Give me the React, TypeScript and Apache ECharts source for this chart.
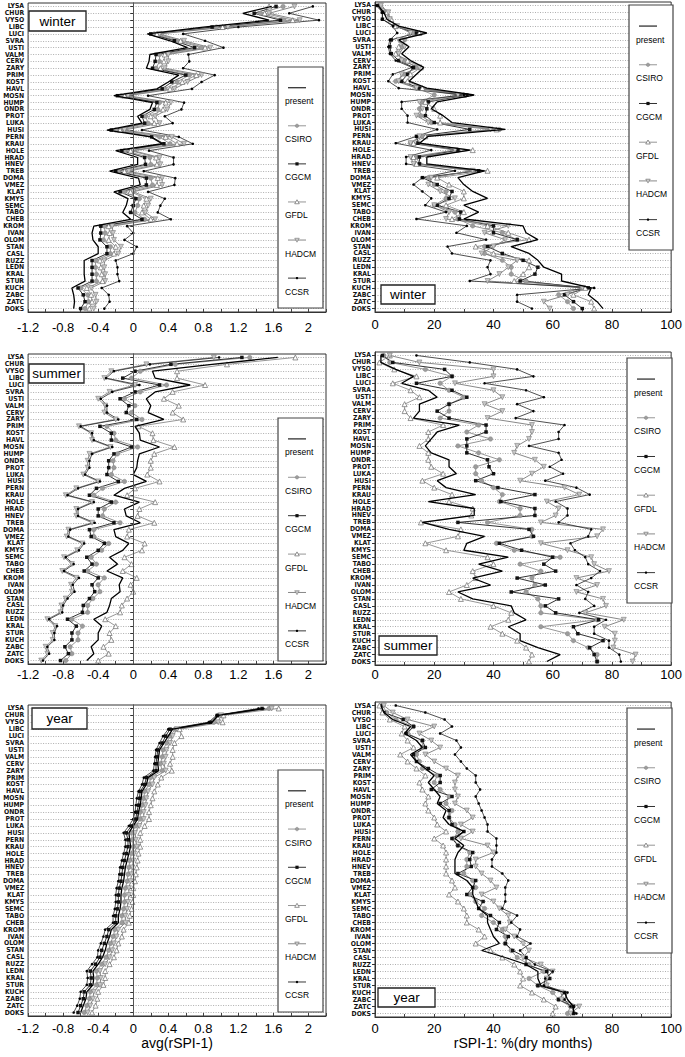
import React, { useEffect, useRef } from "react";
import * as echarts from "echarts";

const stations = ["LYSA","CHUR","VYSO","LIBC","LUCI","SVRA","USTI","VALM","CERV","ZARY","PRIM","KOST","HAVL","MOSN","HUMP","ONDR","PROT","LUKA","HUSI","PERN","KRAU","HOLE","HRAD","HNEV","TREB","DOMA","VMEZ","KLAT","KMYS","SEMC","TABO","CHEB","KROM","IVAN","OLOM","STAN","CASL","RUZZ","LEDN","KRAL","STUR","KUCH","ZABC","ZATC","DOKS"];

const models = ["present", "CSIRO", "CGCM", "GFDL", "HADCM", "CCSR"];
const avgTicks = [-1.2, -0.8, -0.4, 0, 0.4, 0.8, 1.2, 1.6, 2];
const pctTicks = [0, 20, 40, 60, 80, 100];

// ---------- winter avg(rSPI-1)
const winterAvgPresent = [1.58,1.25,1.55,0.8,0.16,0.42,0.62,0.19,0.18,0.15,0.52,0.4,0.27,-0.22,0.22,0.19,0.05,0.1,-0.3,0.2,0.33,-0.2,0.05,0.05,-0.27,0.06,0.08,-0.22,-0.06,-0.08,-0.12,-0.03,-0.45,-0.47,-0.46,-0.4,-0.4,-0.56,-0.56,-0.56,-0.55,-0.7,-0.68,-0.67,-0.68];
const winterAvgCSIRO = [1.71,1.45,1.72,0.95,0.24,0.5,0.78,0.3,0.3,0.26,0.64,0.5,0.36,-0.14,0.3,0.28,0.14,0.17,-0.2,0.3,0.42,-0.1,0.19,0.2,-0.17,0.2,0.22,-0.1,0.07,0.05,0.02,0.13,-0.33,-0.32,-0.34,-0.26,-0.26,-0.43,-0.43,-0.42,-0.42,-0.6,-0.52,-0.51,-0.55];
const winterAvgCGCM = [1.63,1.38,1.68,0.9,0.2,0.47,0.7,0.26,0.25,0.22,0.6,0.44,0.33,-0.18,0.27,0.24,0.1,0.13,-0.25,0.21,0.35,-0.13,0.13,0.14,-0.2,0.15,0.15,-0.15,0.03,0.0,-0.03,0.1,-0.37,-0.37,-0.38,-0.3,-0.3,-0.47,-0.47,-0.47,-0.47,-0.63,-0.57,-0.55,-0.6];
const winterAvgGFDL = [1.55,1.5,1.82,1.02,0.27,0.54,0.82,0.36,0.35,0.31,0.72,0.56,0.42,-0.1,0.37,0.34,0.2,0.24,-0.15,0.37,0.5,-0.03,0.26,0.27,-0.1,0.28,0.27,-0.03,0.15,0.12,0.1,0.2,-0.28,-0.27,-0.28,-0.2,-0.22,-0.38,-0.37,-0.36,-0.35,-0.53,-0.48,-0.47,-0.5];
const winterAvgHADCM = [1.84,1.55,1.9,1.08,0.3,0.58,0.88,0.4,0.4,0.36,0.78,0.62,0.47,-0.06,0.43,0.39,0.25,0.3,-0.1,0.44,0.58,0.0,0.3,0.31,-0.05,0.33,0.33,0.0,0.2,0.17,0.14,0.25,-0.24,-0.23,-0.22,-0.14,-0.17,-0.33,-0.33,-0.32,-0.32,-0.48,-0.43,-0.42,-0.45];
const winterAvgCCSR = [2.05,1.78,2.12,1.2,0.57,0.82,1.03,0.63,0.64,0.57,0.93,0.78,0.67,0.17,0.58,0.55,0.36,0.45,0.1,0.52,0.68,0.18,0.46,0.46,0.12,0.48,0.47,0.17,0.36,0.31,0.28,0.43,-0.07,0.0,-0.1,0.04,0.0,-0.2,-0.18,-0.18,-0.16,-0.36,-0.28,-0.27,-0.33];

// ---------- winter % dry months
const winterPctPresent = [1,3,4,8,17.5,8,11.5,9,12,16.5,14,11.5,17.5,33.5,21,19,23,26,44,18,15,32,17.5,17.5,37,28,30,33,38,30,35,30,50,51,55,46,52,55,57,63,63,73,72,75,77];
const winterPctCSIRO = [1.5,3.5,5,7,13,10,9,7.5,10,14,10,7,14,20,16,15,15.5,19,42,16,12,28,14,15,33,18,20,24,24,20,27,28,33,43,48,37,37,43,46,46,51,70,62,65,67];
const winterPctCGCM = [1,2.5,2.5,6.5,14,5.5,5,5.5,8,13,11,9,15,31,18,17.5,17,20,32,14,14.5,28,15,15,35,16,21,26,25,21,29,28.5,40,40,48,38,43,50,55,54,49,72,64,67,70];
const winterPctGFDL = [2,4,5.5,7,15,9,8,7,11,15.5,12,11,16,30,17,20,22,22,41,17,13,33,13,14,38,21,25,30,30,24,30,26,38,45,52,34,40,52,52,50,47,71,67,73,74];
const winterPctHADCM = [2,4.5,5,7.5,12,8,10,8,9,15,9,8,14,28,15,16,14,18,39,15,12,27,12,13,33,19,18,22,27,20,25,24,45,37,44,40,36,48,45,42,38,70,65,57,59];
const winterPctCCSR = [0.5,2.5,2.5,6,7.5,5,4.5,5,7,12.5,6,4.5,8,30,9,9,11,11,21,14,7,19,10.5,10.5,27,16,13,16,19,17,24,14,31,27.5,37.5,24.5,26,39,38,39,32,74,48,48,53];

// ---------- summer avg(rSPI-1)
const summerAvgPresent = [1.65,0.9,0.22,0.25,0.65,0.25,0.15,0.2,0.17,0.35,0.02,0.07,0.08,0.3,0.07,0.05,0.04,0.0,0.15,-0.1,-0.22,0.07,-0.1,-0.08,0.08,-0.22,-0.2,-0.05,-0.12,-0.27,-0.18,-0.3,-0.12,-0.16,-0.15,-0.25,-0.27,-0.3,-0.45,-0.36,-0.4,-0.4,-0.48,-0.45,-0.53];
const summerAvgCSIRO = [1.33,0.48,0.08,-0.02,0.38,0.08,-0.1,0.02,-0.02,0.1,-0.3,-0.22,-0.2,0.05,-0.18,-0.23,-0.22,-0.25,-0.1,-0.35,-0.45,-0.2,-0.33,-0.35,-0.15,-0.45,-0.45,-0.28,-0.36,-0.48,-0.42,-0.52,-0.33,-0.4,-0.38,-0.46,-0.52,-0.52,-0.7,-0.58,-0.63,-0.63,-0.72,-0.7,-0.77];
const summerAvgCGCM = [1.24,0.43,0.02,-0.12,0.3,0.02,-0.15,-0.05,-0.08,0.04,-0.38,-0.25,-0.25,-0.02,-0.22,-0.28,-0.28,-0.3,-0.17,-0.42,-0.5,-0.25,-0.4,-0.4,-0.22,-0.5,-0.48,-0.33,-0.4,-0.53,-0.47,-0.56,-0.4,-0.47,-0.44,-0.5,-0.57,-0.58,-0.75,-0.65,-0.7,-0.7,-0.78,-0.74,-0.83];
const summerAvgGFDL = [1.85,1.07,0.5,0.5,0.82,0.45,0.35,0.52,0.45,0.57,0.06,0.22,0.23,0.47,0.24,0.2,0.2,0.16,0.3,0.02,-0.07,0.25,0.07,0.05,0.24,-0.05,-0.07,0.13,0.1,-0.1,-0.02,-0.12,0.04,-0.03,0.0,-0.07,-0.13,-0.15,-0.32,-0.2,-0.27,-0.25,-0.34,-0.28,-0.4];
const summerAvgHADCM = [0.92,0.15,-0.25,-0.33,0.02,-0.27,-0.4,-0.32,-0.33,-0.2,-0.62,-0.48,-0.47,-0.26,-0.5,-0.52,-0.52,-0.57,-0.4,-0.65,-0.77,-0.47,-0.65,-0.65,-0.47,-0.74,-0.76,-0.58,-0.64,-0.79,-0.7,-0.81,-0.65,-0.71,-0.7,-0.77,-0.82,-0.83,-0.98,-0.89,-0.92,-0.92,-1.0,-0.98,-1.05];
const summerAvgCCSR = [0.98,0.19,-0.22,-0.31,0.07,-0.24,-0.37,-0.3,-0.3,-0.17,-0.6,-0.47,-0.45,-0.24,-0.47,-0.5,-0.5,-0.55,-0.38,-0.63,-0.75,-0.45,-0.63,-0.63,-0.44,-0.72,-0.74,-0.56,-0.62,-0.77,-0.68,-0.79,-0.62,-0.69,-0.67,-0.75,-0.8,-0.81,-0.96,-0.87,-0.9,-0.9,-0.98,-0.96,-1.03];

// ---------- summer % dry months
const summerPctPresent = [2,2,7,13,9,18,21,15,15,13,28.5,21,19,17,19,25,25,27.5,21,24,34,18,33.5,33.5,16,25,37,31,30,45,35,43,33,39,28,33,46,47,51,45,49,49,55,62.5,58];
const summerPctCSIRO = [3,5,17,26,22,25,30,25,25,22,35,31,39,28,35,42,34,34,36,40,43,42,49,49,38,53,53,41,47,62.5,49,56,53,54,51,55,56,56,75,56,65,67,72,75,75];
const summerPctCGCM = [2.5,6,23.5,26,14,26,31,25,21,25,37.5,37.5,31,31,31,38,38.5,40,34,41.5,54,42.5,54,54,28,52,53.5,42,49.5,60,57,61,48,57.5,46,62,57.5,61,75.5,67,68.5,77,72.5,74,75];
const summerPctGFDL = [5,1.5,6.5,14,6,12,15,10,10,12,23,18,18,15,18,18,19,23,16,20,26,25,33,32.5,15.5,29,28,17,24,38,40,33,34,31,25,29,40,46,45,39,43,48,51,53,52];
const summerPctHADCM = [5,15,40,40,27,40,43,37,43,38,53,53,52,48,47,54,57,53,49,64,69,58,62,61,56,77,75,56,65,73,74,79,68,75,68,77,78,71,84,77.5,81,81,80.5,88,87];
const summerPctCCSR = [14,32,48,53.5,37,51,57,48,53.5,47.5,64,62,62,52,62,63,59,63.5,57.5,68,72.5,61,65,65,62,73,72,66,67.5,71,72,76,73,68,72,71,74,69,78,74,74,79,79,82.5,83];

// ---------- year avg(rSPI-1)
const yearAvgPresent = [1.5,0.97,0.9,0.45,0.4,0.35,0.3,0.29,0.28,0.29,0.17,0.15,0.1,0.09,0.08,0.06,0.05,0.0,-0.05,-0.04,-0.03,-0.05,-0.07,-0.09,-0.1,-0.11,-0.13,-0.14,-0.14,-0.15,-0.17,-0.17,-0.25,-0.27,-0.3,-0.32,-0.35,-0.4,-0.46,-0.45,-0.46,-0.53,-0.54,-0.57,-0.6];
const yearAvgCSIRO = [1.55,0.97,0.92,0.48,0.42,0.38,0.34,0.33,0.31,0.33,0.2,0.18,0.13,0.12,0.1,0.08,0.08,0.03,-0.02,-0.01,0.0,-0.02,-0.04,-0.05,-0.06,-0.07,-0.09,-0.1,-0.1,-0.11,-0.13,-0.13,-0.21,-0.23,-0.26,-0.28,-0.31,-0.36,-0.42,-0.41,-0.42,-0.49,-0.5,-0.53,-0.56];
const yearAvgCGCM = [1.47,0.96,0.88,0.42,0.37,0.33,0.28,0.27,0.26,0.26,0.15,0.13,0.08,0.07,0.06,0.04,0.03,-0.02,-0.08,-0.06,-0.06,-0.08,-0.1,-0.12,-0.13,-0.14,-0.16,-0.17,-0.17,-0.18,-0.2,-0.2,-0.28,-0.3,-0.33,-0.36,-0.38,-0.43,-0.49,-0.48,-0.49,-0.56,-0.57,-0.6,-0.63];
const yearAvgGFDL = [1.66,1.03,1.02,0.53,0.55,0.47,0.45,0.45,0.42,0.44,0.32,0.28,0.24,0.22,0.2,0.18,0.18,0.13,0.08,0.08,0.08,0.06,0.05,0.04,0.03,0.02,0.0,0.0,-0.01,-0.02,-0.04,-0.05,-0.11,-0.13,-0.17,-0.19,-0.22,-0.27,-0.32,-0.32,-0.34,-0.4,-0.41,-0.43,-0.47];
const yearAvgHADCM = [1.58,1.0,0.97,0.5,0.45,0.42,0.38,0.37,0.35,0.37,0.24,0.22,0.17,0.15,0.14,0.12,0.12,0.07,0.02,0.03,0.04,0.01,0.0,-0.01,-0.02,-0.03,-0.05,-0.05,-0.06,-0.07,-0.09,-0.09,-0.17,-0.19,-0.22,-0.24,-0.27,-0.32,-0.38,-0.37,-0.38,-0.45,-0.46,-0.49,-0.52];
const yearAvgCCSR = [1.43,0.95,0.86,0.4,0.34,0.3,0.26,0.25,0.24,0.23,0.12,0.1,0.06,0.04,0.03,0.02,0.0,-0.05,-0.11,-0.09,-0.09,-0.11,-0.13,-0.15,-0.16,-0.17,-0.19,-0.2,-0.2,-0.21,-0.23,-0.23,-0.32,-0.34,-0.37,-0.4,-0.41,-0.47,-0.53,-0.52,-0.53,-0.6,-0.61,-0.64,-0.68];

// ---------- year % dry months
const yearPctPresent = [2,3,6,12,10,14,16,12,14,17,20,18,20,22,21,24,23,25,30,27,30,28,27,27,27,31,33,33,34,35,38,38,39,40,42,36,44,51,55,55,56,64,65,67,67];
const yearPctCSIRO = [2.5,4,7,13,11,16,16,14,15,16,21,20,22,25,24,26,25,27,28,26.5,28,32,31,31,30,33,34,32,34,37,36,40,43,44,44,46,48,52,57,52,55,60,62,66,65];
const yearPctCGCM = [2,3,9.5,13,10.5,16,17,13,14,18,22,22,19,26,22,25,25,26,30,26,28,33,32,32.5,28,34,33,31,36.5,35,39,42,41,45,44,46.5,51,51,58,59,55,64,62,67,67];
const yearPctGFDL = [1.5,2.5,5,10,9,11,13,8.5,11,14,17,15,16,18,17,18,20,21,24,20,23,24,24,24,24,26,27,25,28,30,31,31,35,37,34,39,43,47,49,50,49,53,57,61,60];
const yearPctHADCM = [3,6,11,20,15,19,22,17,20,24,28,27,27,28,27,31,33,29,33,29,38,40,34,34,36,39,41,36,40,42,45,45.5,44,47,50,52,50,56,60,58,58,63,63,69,66];
const yearPctCCSR = [7,17,23.5,26,22,27.5,29,27,29,31,34,34,35.5,34,35,36,37,38,38,41,41,41,39.5,39.5,43,45,44,44,44,43,48,46,49,48,52.5,49,51,54,60,57.5,57,65,64,66,68];

const panelData: Record<string, number[][]> = {
  winterAvg: [winterAvgPresent, winterAvgCSIRO, winterAvgCGCM, winterAvgGFDL, winterAvgHADCM, winterAvgCCSR],
  winterPct: [winterPctPresent, winterPctCSIRO, winterPctCGCM, winterPctGFDL, winterPctHADCM, winterPctCCSR],
  summerAvg: [summerAvgPresent, summerAvgCSIRO, summerAvgCGCM, summerAvgGFDL, summerAvgHADCM, summerAvgCCSR],
  summerPct: [summerPctPresent, summerPctCSIRO, summerPctCGCM, summerPctGFDL, summerPctHADCM, summerPctCCSR],
  yearAvg: [yearAvgPresent, yearAvgCSIRO, yearAvgCGCM, yearAvgGFDL, yearAvgHADCM, yearAvgCCSR],
  yearPct: [yearPctPresent, yearPctCSIRO, yearPctCGCM, yearPctGFDL, yearPctHADCM, yearPctCCSR],
};

const FONT = "'Liberation Sans', Arial, Helvetica, sans-serif";
const NARROW = "'Liberation Sans Narrow', 'DejaVu Sans Condensed', 'Liberation Sans', sans-serif";

type Box = { x: number; y: number; w: number; h: number };
type Panel = {
  key: string;
  kind: "avg" | "pct";
  grid: { left: number; top: number; width: number; height: number };
  labelMargin: number;
  tag: Box & { text: string };
  legend: Box;
  name?: string;
};

const panels: Panel[] = [
  { key: "winterAvg", kind: "avg", grid: { left: 24, top: 3, width: 302, height: 309 }, labelMargin: 9,
    tag: { x: 29, y: 11, w: 57, h: 20, text: "winter" }, legend: { x: 278, y: 67, w: 45, h: 241 } },
  { key: "winterPct", kind: "pct", grid: { left: 375, top: 2, width: 302, height: 310 }, labelMargin: 6,
    tag: { x: 381, y: 285, w: 54, h: 19, text: "winter" }, legend: { x: 629, y: 5, w: 44, h: 245 } },
  { key: "summerAvg", kind: "avg", grid: { left: 24, top: 354, width: 302, height: 310 }, labelMargin: 4,
    tag: { x: 29, y: 364, w: 55, h: 19, text: "summer" }, legend: { x: 278, y: 418, w: 45, h: 243 } },
  { key: "summerPct", kind: "pct", grid: { left: 375, top: 352, width: 302, height: 313 }, labelMargin: 3,
    tag: { x: 379, y: 636, w: 58, h: 19, text: "summer" }, legend: { x: 627, y: 358, w: 45, h: 245 } },
  { key: "yearAvg", kind: "avg", grid: { left: 24, top: 705, width: 302, height: 311 }, labelMargin: 6,
    tag: { x: 32, y: 708, w: 55, h: 21, text: "year" }, legend: { x: 278, y: 770, w: 45, h: 242 }, name: "avg(rSPI-1)" },
  { key: "yearPct", kind: "pct", grid: { left: 375, top: 702, width: 302, height: 315 }, labelMargin: 5,
    tag: { x: 378, y: 988, w: 57, h: 19, text: "year" }, legend: { x: 627, y: 708, w: 45, h: 245 }, name: "rSPI-1: %(dry months)" },
];

const modelStyle: Record<string, any> = {
  present: { lineStyle: { color: "#000", width: 1.3 }, symbol: "none", itemStyle: { color: "#000" } },
  CSIRO: { lineStyle: { color: "#8a8a8a", width: 0.9 }, symbol: "circle", symbolSize: 4.5,
    itemStyle: { color: "#9c9c9c", borderColor: "#808080", borderWidth: 0.4 } },
  CGCM: { lineStyle: { color: "#1a1a1a", width: 0.9 }, symbol: "rect", symbolSize: 3.5, itemStyle: { color: "#111" } },
  GFDL: { lineStyle: { color: "#8a8a8a", width: 0.9 }, symbol: "triangle", symbolSize: 5,
    itemStyle: { color: "#fff", borderColor: "#6a6a6a", borderWidth: 0.7 } },
  HADCM: { lineStyle: { color: "#7a7a7a", width: 0.9 }, symbol: "path://M0,0L10,0L5,9Z", symbolSize: 5,
    itemStyle: { color: "#c8c8c8", borderColor: "#6a6a6a", borderWidth: 0.5 } },
  CCSR: { lineStyle: { color: "#222", width: 0.8 }, symbol: "circle", symbolSize: 2.6, itemStyle: { color: "#000" } },
};

function legendMarker(model: string, cx: number, cy: number): any[] {
  const out: any[] = [];
  const st = modelStyle[model];
  out.push({ type: "line", shape: { x1: cx - 9, y1: cy, x2: cx + 9, y2: cy },
    style: { stroke: model === "present" ? "#222" : st.lineStyle.color, lineWidth: model === "present" ? 1.2 : 0.9 } });
  if (model === "CSIRO") out.push({ type: "circle", shape: { cx, cy, r: 1.8 }, style: { fill: "#9c9c9c", stroke: "#808080", lineWidth: 0.4 } });
  if (model === "CGCM") out.push({ type: "rect", shape: { x: cx - 1.6, y: cy - 1.6, width: 3.2, height: 3.2 }, style: { fill: "#111" } });
  if (model === "GFDL") out.push({ type: "polygon", shape: { points: [[cx, cy - 2.2], [cx + 2.3, cy + 1.8], [cx - 2.3, cy + 1.8]] }, style: { fill: "#fff", stroke: "#666", lineWidth: 0.7 } });
  if (model === "HADCM") out.push({ type: "polygon", shape: { points: [[cx - 2.3, cy - 1.8], [cx + 2.3, cy - 1.8], [cx, cy + 2.2]] }, style: { fill: "#c8c8c8", stroke: "#666", lineWidth: 0.5 } });
  if (model === "CCSR") out.push({ type: "circle", shape: { cx, cy, r: 1.2 }, style: { fill: "#000" } });
  return out;
}

function legendGraphic(b: Box): any[] {
  const els: any[] = [
    { type: "rect", shape: { x: b.x, y: b.y, width: b.w, height: b.h }, style: { fill: "#fff", stroke: "#444", lineWidth: 1.2 }, z: 10 },
  ];
  const step = b.h * 0.158;
  models.forEach((m, i) => {
    const ly = b.y + b.h * 0.086 + i * step;
    legendMarker(m, b.x + 19, ly).forEach((e) => els.push({ ...e, z: 11 }));
    els.push({ type: "text", x: b.x + 7, y: ly + 9, z: 11,
      style: { text: m, fill: "#000", fontSize: 8.5, fontFamily: FONT, textAlign: "left", textVerticalAlign: "top", align: "left", verticalAlign: "top" } });
  });
  return els;
}

function tagGraphic(t: Box & { text: string }): any[] {
  return [
    { type: "rect", shape: { x: t.x, y: t.y, width: t.w, height: t.h }, style: { fill: "#fff", stroke: "#222", lineWidth: 1.3 }, z: 10 },
    { type: "text", x: t.x + t.w / 2, y: t.y + t.h / 2, z: 11,
      style: { text: t.text, fill: "#000", fontSize: 13.5, fontFamily: FONT, textAlign: "center", textVerticalAlign: "middle", align: "center", verticalAlign: "middle" } },
  ];
}

function buildOption(): any {
  const grids: any[] = [];
  const xAxes: any[] = [];
  const yAxes: any[] = [];
  const series: any[] = [];
  let graphics: any[] = [];
  const drawOrder = ["CSIRO", "CGCM", "GFDL", "HADCM", "CCSR", "present"];

  panels.forEach((p, i) => {
    grids.push({ ...p.grid, show: true, borderColor: "#333", borderWidth: 1, backgroundColor: "transparent" });
    const isAvg = p.kind === "avg";
    const ticks = isAvg ? avgTicks : pctTicks;
    xAxes.push({
      type: "value", gridIndex: i,
      min: isAvg ? -1.2 : 0, max: isAvg ? 2.2 : 100,
      interval: isAvg ? 0.4 : 20,
      axisLine: { show: true, lineStyle: { color: "#333", width: 1 } },
      axisTick: { show: true, inside: true, length: 3, lineStyle: { color: "#444" } },
      minorTick: { show: true, splitNumber: 2, length: 3, lineStyle: { color: "#444" } },
      splitLine: { show: false },
      axisLabel: {
        margin: p.labelMargin, fontSize: 13, fontFamily: FONT, color: "#000",
        formatter: (v: number) => {
          const r = Math.round(v * 10) / 10;
          return ticks.some((t) => Math.abs(t - r) < 1e-6) ? String(r) : "";
        },
      },
      name: p.name || "", nameLocation: "middle", nameGap: 19,
      nameTextStyle: { fontSize: 14, fontFamily: FONT, color: "#000", verticalAlign: "top" },
    });
    yAxes.push({
      type: "category", gridIndex: i, data: stations, inverse: true, boundaryGap: true,
      axisLine: { show: true, lineStyle: { color: "#333", width: 1 } },
      axisTick: { show: true, alignWithLabel: true, interval: 0, length: 3, lineStyle: { color: "#333" } },
      axisLabel: { interval: 0, margin: 4, fontSize: 6.8, fontWeight: "bold", fontFamily: NARROW, color: "#111" },
      splitLine: { show: true, alignWithLabel: true, interval: 0, lineStyle: { color: "#9a9a9a", width: 0.8, type: [1, 1.5] } },
    });
    const vals = panelData[p.key];
    drawOrder.forEach((m) => {
      const idx = models.indexOf(m);
      const st = modelStyle[m];
      const s: any = {
        name: `${p.key}-${m}`, type: "line", xAxisIndex: i, yAxisIndex: i,
        data: vals[idx].map((v, k) => [v, stations[k]]),
        symbol: st.symbol, symbolSize: st.symbolSize, showSymbol: st.symbol !== "none", showAllSymbol: true,
        lineStyle: st.lineStyle, itemStyle: st.itemStyle, emphasis: { disabled: true }, silent: true,
        z: m === "present" ? 4 : 3,
      };
      if (m === "present" && isAvg) {
        s.markLine = { silent: true, symbol: "none", label: { show: false },
          lineStyle: { color: "#555", width: 1, type: "solid" }, data: [{ xAxis: 0 }] };
      }
      series.push(s);
    });
    graphics = graphics.concat(tagGraphic(p.tag), legendGraphic(p.legend));
  });

  return {
    animation: false,
    backgroundColor: "#fff",
    grid: grids, xAxis: xAxes, yAxis: yAxes, series,
    graphic: { elements: graphics },
  };
}

export default function App() {
  const ref = useRef<HTMLDivElement>(null);
  useEffect(() => {
    if (!ref.current) return;
    const chart = echarts.init(ref.current, null, { renderer: "svg" });
    chart.setOption(buildOption());
    return () => chart.dispose();
  }, []);
  return (
    <div
      ref={ref}
      style={{ position: "absolute", left: 0, top: 0, width: 685, height: 1057, background: "#fff" }}
    />
  );
}
